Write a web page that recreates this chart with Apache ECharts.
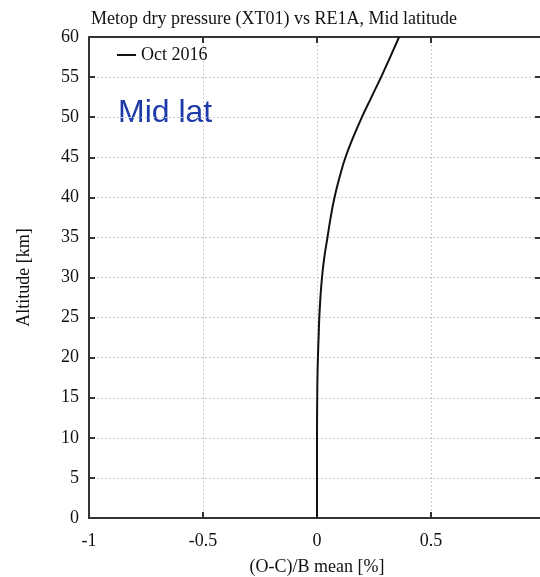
<!DOCTYPE html>
<html>
<head>
<meta charset="utf-8">
<script src="https://cdn.jsdelivr.net/npm/echarts@6/dist/echarts.min.js"></script>
<style>
  html, body { margin: 0; padding: 0; background: #fff; }
  #chart { width: 540px; height: 577px; }
</style>
</head>
<body>
<div id="chart"></div>
<script>
// Mean normalised departure profile, Oct 2016
const altitudeKm = [0, 5, 10, 15, 17.5, 20, 22.5, 25, 27.5, 30, 32.5, 35, 37.5, 40, 42.5, 45, 47.5, 50, 52.5, 55, 57.5, 60];
const meanDeparture = [0.0, 0.0, 0.0, 0.001, 0.002, 0.004, 0.007, 0.010, 0.015, 0.022, 0.032, 0.046, 0.060, 0.077, 0.099, 0.125, 0.159, 0.197, 0.239, 0.281, 0.321, 0.36];
const seriesName = 'Oct 2016';
const xTicks = [-1, -0.5, 0, 0.5, 1];
const yTicks = [0, 5, 10, 15, 20, 25, 30, 35, 40, 45, 50, 55, 60];

const serif = '"Liberation Serif", "DejaVu Serif", serif';
const chart = echarts.init(document.getElementById('chart'), null, { renderer: 'canvas' });

const gridLine = { show: true, lineStyle: { color: '#cccccc', type: [2, 2], width: 1 } };
const axisLine = { show: true, onZero: false, lineStyle: { color: '#333', width: 2 } };
const tick = { show: true, inside: true, length: 6, lineStyle: { color: '#333', width: 2 } };

chart.setOption({
  animation: false,
  backgroundColor: '#fff',
  title: {
    text: 'Metop dry pressure (XT01) vs RE1A, Mid latitude',
    left: 86, top: 5,
    textStyle: { fontFamily: serif, fontSize: 18, fontWeight: 'normal', color: '#111' }
  },
  legend: {
    data: [seriesName],
    left: 112, top: 41,
    icon: 'rect', itemWidth: 19, itemHeight: 2, itemGap: 10,
    textStyle: { fontFamily: serif, fontSize: 18, color: '#111' }
  },
  graphic: [{
    type: 'text', left: 118, top: 97,
    style: { text: 'Mid lat', font: '32px "Liberation Sans", Arial, sans-serif', fill: '#1c3aa9' }
  }],
  grid: { left: 89, right: -5, top: 37, bottom: 59, outerBoundsMode: 'none' },
  xAxis: [{
    type: 'value', position: 'bottom', min: xTicks[0], max: xTicks[xTicks.length - 1], interval: 0.5,
    name: '(O-C)/B mean [%]', nameLocation: 'middle', nameGap: 40,
    nameTextStyle: { fontFamily: serif, fontSize: 18, color: '#111' },
    axisLine: axisLine, axisTick: tick,
    axisLabel: { fontFamily: serif, fontSize: 18, color: '#111', margin: 14, showMaxLabel: false,
      formatter: v => String(v) },
    splitLine: gridLine
  }, {
    type: 'value', position: 'top', min: xTicks[0], max: xTicks[xTicks.length - 1], interval: 0.5,
    axisLine: axisLine, axisTick: tick,
    axisLabel: { show: false }, splitLine: { show: false }
  }],
  yAxis: [{
    type: 'value', position: 'left', min: yTicks[0], max: yTicks[yTicks.length - 1], interval: 5,
    name: 'Altitude [km]', nameLocation: 'middle', nameGap: 56, nameRotate: 90,
    nameTextStyle: { fontFamily: serif, fontSize: 18, color: '#111' },
    axisLine: axisLine, axisTick: tick,
    axisLabel: { fontFamily: serif, fontSize: 18, color: '#111', margin: 10 },
    splitLine: gridLine
  }, {
    type: 'value', position: 'right', min: yTicks[0], max: yTicks[yTicks.length - 1], interval: 5,
    axisLine: axisLine,
    axisTick: { show: true, inside: true, length: 10, lineStyle: { color: '#333', width: 2 } },
    axisLabel: { show: false }, splitLine: { show: false }
  }],
  series: [{
    name: seriesName,
    type: 'line',
    xAxisIndex: 0, yAxisIndex: 0,
    data: altitudeKm.map((h, i) => [meanDeparture[i], h]),
    smooth: 0.5,
    showSymbol: false,
    lineStyle: { color: '#111', width: 2 },
    itemStyle: { color: '#111' }
  }]
});
</script>
</body>
</html>
